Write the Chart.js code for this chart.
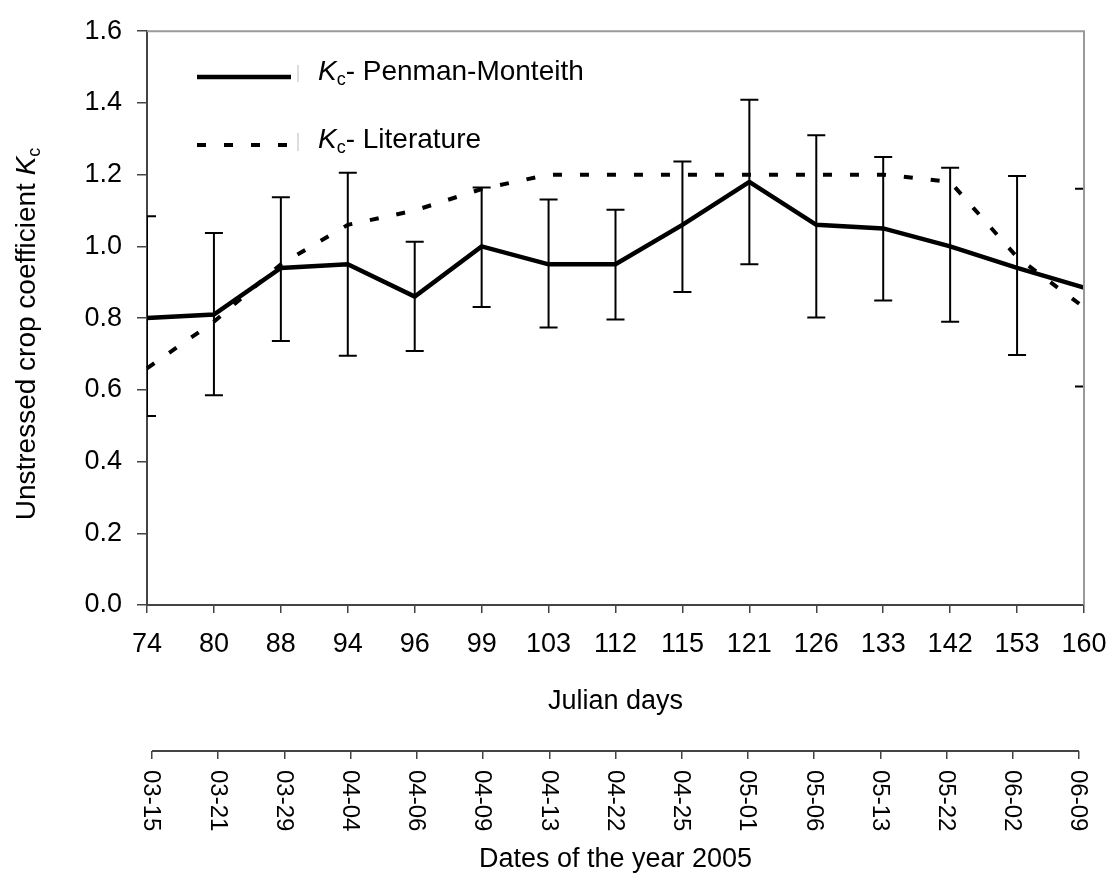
<!DOCTYPE html>
<html>
<head>
<meta charset="utf-8">
<script src="https://cdn.jsdelivr.net/npm/chart.js@4/dist/chart.umd.min.js"></script>
<style>
  html, body { margin: 0; padding: 0; background: #fff; }
</style>
</head>
<body>
<canvas id="kc" width="1112" height="876"></canvas>
<script>
// Julian days (upper axis) and matching calendar dates (lower axis)
const julianDays = ['74', '80', '88', '94', '96', '99', '103', '112', '115', '121', '126', '133', '142', '153', '160'];
const dateLabels = ['03-15', '03-21', '03-29', '04-04', '04-06', '04-09', '04-13', '04-22', '04-25', '05-01', '05-06', '05-13', '05-22', '06-02', '06-09'];

// Kc Penman-Monteith with its error bar limits
const kcPenman = [0.80, 0.81, 0.94, 0.95, 0.86, 1.00, 0.95, 0.95, 1.06, 1.18, 1.06, 1.05, 1.00, 0.94, 0.885];
const kcLow    = [0.527, 0.585, 0.736, 0.695, 0.708, 0.831, 0.774, 0.796, 0.873, 0.95, 0.802, 0.849, 0.79, 0.697, 0.609];
const kcHigh   = [1.084, 1.037, 1.137, 1.205, 1.013, 1.164, 1.131, 1.102, 1.237, 1.409, 1.31, 1.249, 1.219, 1.196, 1.161];

// Kc from literature
const kcLiterature = [0.66, 0.79, 0.95, 1.06, 1.10, 1.16, 1.20, 1.20, 1.20, 1.20, 1.20, 1.20, 1.18, 0.97, 0.83];

const FONT = '"Liberation Sans", Arial, sans-serif';

// draws "K" italic + subscript "c" + rest of text, returns end x
function drawKc(ctx, x, y, rest, size, measureOnly) {
    let cx = x;
    ctx.font = 'italic ' + size + 'px ' + FONT;
    if (!measureOnly) ctx.fillText('K', cx, y);
    cx += ctx.measureText('K').width;
    ctx.font = Math.round(size * 0.65) + 'px ' + FONT;
    if (!measureOnly) ctx.fillText('c', cx, y + 5);
    cx += ctx.measureText('c').width;
    ctx.font = size + 'px ' + FONT;
    if (!measureOnly) ctx.fillText(rest, cx, y);
    cx += ctx.measureText(rest).width;
    return cx - x;
}

const errorBars = {
    id: 'errorBars',
    afterDatasetsDraw(chart) {
        const { ctx, chartArea: a, scales: { x, y } } = chart;
        ctx.save();
        ctx.beginPath();
        ctx.rect(a.left, a.top, a.right - a.left, a.bottom - a.top);
        ctx.clip();
        ctx.strokeStyle = '#000';
        ctx.lineWidth = 2;
        julianDays.forEach((d, i) => {
            const px = x.getPixelForValue(i);
            const lo = y.getPixelForValue(kcLow[i]);
            const hi = y.getPixelForValue(kcHigh[i]);
            ctx.beginPath();
            ctx.moveTo(px, lo); ctx.lineTo(px, hi);
            ctx.moveTo(px - 9, lo); ctx.lineTo(px + 9, lo);
            ctx.moveTo(px - 9, hi); ctx.lineTo(px + 9, hi);
            ctx.stroke();
        });
        ctx.restore();
    }
};

const decorations = {
    id: 'decorations',
    afterDraw(chart) {
        const { ctx, chartArea: a, scales: { x2 } } = chart;
        ctx.save();

        // grey frame top + right
        ctx.strokeStyle = '#999';
        ctx.lineWidth = 2;
        ctx.beginPath();
        ctx.moveTo(a.left, a.top);
        ctx.lineTo(a.right, a.top);
        ctx.lineTo(a.right, a.bottom);
        ctx.stroke();

        // legend
        ctx.fillStyle = '#000';
        ctx.strokeStyle = '#000';
        ctx.textBaseline = 'alphabetic';
        ctx.lineWidth = 4.5;
        ctx.beginPath(); ctx.moveTo(197, 77); ctx.lineTo(291, 77); ctx.stroke();
        ctx.lineWidth = 4;
        ctx.setLineDash([9, 18]);
        ctx.beginPath(); ctx.moveTo(197, 145); ctx.lineTo(291, 145); ctx.stroke();
        ctx.setLineDash([]);
        ctx.strokeStyle = '#bbb';
        ctx.lineWidth = 1;
        ctx.beginPath(); ctx.moveTo(298, 65); ctx.lineTo(298, 82); ctx.moveTo(298, 133); ctx.lineTo(298, 151); ctx.stroke();
        drawKc(ctx, 318, 80, '- Penman-Monteith', 28);
        drawKc(ctx, 318, 148, '- Literature', 28);

        // y axis title, rotated
        ctx.save();
        ctx.translate(35, 331);
        ctx.rotate(-Math.PI / 2);
        ctx.font = '28px ' + FONT;
        const head = 'Unstressed crop coefficient ';
        const headW = ctx.measureText(head).width;
        const w = headW + drawKc(ctx, 0, 0, '', 28, true) + 6;
        ctx.fillText(head, -w / 2, 0);
        drawKc(ctx, -w / 2 + headW, 0, '', 28);
        ctx.restore();

        // lower axis: line + dates written top-to-bottom
        const x0 = x2.getPixelForValue(0), x1 = x2.getPixelForValue(dateLabels.length - 1);
        ctx.strokeStyle = '#444';
        ctx.lineWidth = 2;
        ctx.beginPath(); ctx.moveTo(x0, x2.top); ctx.lineTo(x1, x2.top); ctx.stroke();
        ctx.font = '24px ' + FONT;
        ctx.textAlign = 'left';
        ctx.textBaseline = 'middle';
        dateLabels.forEach((lab, i) => {
            ctx.save();
            ctx.translate(x2.getPixelForValue(i), 770);
            ctx.rotate(Math.PI / 2);
            ctx.fillText(lab, 0, 1);
            ctx.restore();
        });
        ctx.restore();
    }
};

new Chart(document.getElementById('kc'), {
    type: 'line',
    data: {
        labels: julianDays,
        datasets: [
            {
                label: 'Kc- Literature',
                data: kcLiterature,
                borderColor: '#000',
                borderWidth: 4,
                borderDash: [9, 18],
                pointRadius: 0,
                tension: 0,
                fill: false
            },
            {
                label: 'Kc- Penman-Monteith',
                data: kcPenman,
                borderColor: '#000',
                borderWidth: 4.5,
                pointRadius: 0,
                tension: 0,
                fill: false
            }
        ]
    },
    options: {
        responsive: false,
        animation: false,
        layout: { padding: { top: 23, right: 28, left: 0, bottom: 0 } },
        plugins: { legend: { display: false }, tooltip: { enabled: false } },
        scales: {
            x: {
                type: 'category',
                position: 'bottom',
                weight: 0,
                offset: false,
                grid: { drawOnChartArea: false, drawTicks: true, tickLength: 8, color: '#444', lineWidth: 1.5 },
                border: { color: '#444', width: 2 },
                ticks: { color: '#000', font: { family: FONT, size: 27 }, padding: 15, maxRotation: 0, autoSkip: false },
                title: { display: true, text: 'Julian days', color: '#000', font: { family: FONT, size: 27 }, padding: { top: 0, bottom: 33 } },
                afterFit(s) { s.height = 146; s.paddingLeft = 0; s.paddingRight = 0; }
            },
            x2: {
                type: 'linear',
                position: 'bottom',
                weight: 1,
                min: -0.076,
                max: dateLabels.length - 1 + 0.076,
                afterBuildTicks(s) { s.ticks = dateLabels.map((_, i) => ({ value: i })); },
                grid: { drawOnChartArea: false, drawTicks: true, tickLength: 8, color: '#444', lineWidth: 1.5 },
                border: { display: false },
                ticks: { callback: () => '', autoSkip: false, maxRotation: 0 },
                title: { display: true, text: 'Dates of the year 2005', color: '#000', font: { family: FONT, size: 27 }, padding: { top: 0, bottom: 0 } },
                afterFit(s) { s.height = 125; s.paddingLeft = 0; s.paddingRight = 0; }
            },
            y: {
                min: 0,
                max: 1.6,
                grid: { drawOnChartArea: false, drawTicks: true, tickLength: 10, color: '#444', lineWidth: 1.5 },
                border: { color: '#444', width: 2 },
                ticks: { stepSize: 0.2, color: '#000', font: { family: FONT, size: 27 }, padding: 15, callback: v => v.toFixed(1) },
                afterFit(s) { s.width = 147; }
            }
        }
    },
    plugins: [errorBars, decorations]
});
</script>
</body>
</html>
